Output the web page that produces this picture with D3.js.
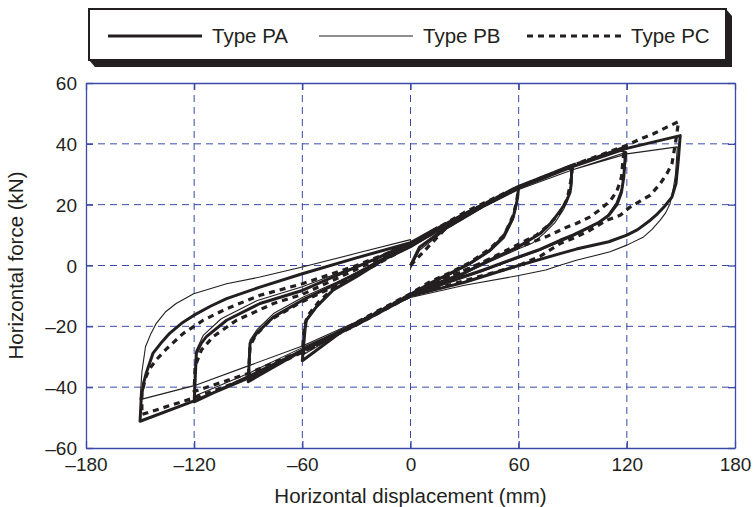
<!DOCTYPE html>
<html>
<head>
<meta charset="utf-8">
<script src="https://cdn.jsdelivr.net/npm/d3@7"></script>
<style>
  body { margin: 0; background: #fff; }
  text { font-family: "Liberation Sans", Arial, sans-serif; fill: #231f20; }
</style>
</head>
<body>
<div id="chart" style="width:754px;height:507px"></div>
<script>
// hysteresis loops, cycles at 60, 90, 120, 150 mm
var typePA = [
  // 60
  [0,0],[5,6],[20,12.5],[40,19.5],[60,25.7],
  [59,21],[57,16],[51.5,9.5],[44,5],[33,0.7],[22,-2.6],[10.7,-5.9],[0,-9.5],[-20,-16],[-40,-22.5],[-60,-31.3],
  [-58.5,-21],[-57.8,-18],[-52.2,-13.6],[-43,-8.1],[-30,-3.7],[-15.2,1.8],[0,6.2],
  // 90
  [20,13.5],[40,19.5],[60,25.5],[75,29],[89.4,32.8],
  [89.2,27],[88.5,24],[86,20.5],[83,18],[78,14],[71.9,10.5],[60,6.2],[44,1.8],[29.3,-2.6],[14.4,-5.9],[0,-9.5],[-30,-19.5],[-60,-28],[-90,-38.2],
  [-89,-25.6],[-85.4,-22.3],[-76,-16.9],[-60,-11.4],[-41,-6],[-20,0.5],[0,6.8],
  // 120
  [30,17],[60,25.5],[90,32.5],[119,39],
  [119,35],[118.3,29],[117,24],[114.5,20],[110,16.5],[104,14],[97,12],[90,10],[83,8.3],[71.8,5.3],[60,2.8],[40,-1.5],[20,-5.5],[0,-10],[-30,-19.5],[-60,-28],[-90,-36.5],[-120,-44.8],
  [-118.8,-28.9],[-116,-25.5],[-113.2,-23.4],[-102,-18],[-83.5,-12.5],[-60,-8.2],[-40,-3],[-20,2],[0,7.5],
  // 150
  [30,17],[60,25.5],[90,32.5],[120,38.5],[149.6,42.7],
  [148.6,35],[147.3,27],[145,22.5],[141,19.5],[137,17],[133,14.9],[126,11.8],[120,10],[110,7.8],[92,5.4],[83,3.9],[60,0],[30,-5.5],[0,-10],[-30,-19],[-60,-28],[-90,-37],[-120,-44.5],[-150,-51.2],
  [-149.4,-44],[-148.2,-39],[-146.6,-35.4],[-142.9,-28.9],[-138,-25.2],[-133.6,-22.3],[-127,-19],[-120.3,-16.4],[-111,-13.4],[-102,-10.9],[-83.5,-7.1],[-60,-2.7],[-30,2.5],[0,7.5],[15,12.5]
];

var typePB = [
  // 60
  [0,-1],[5,5],[20,12],[40,19],[60,25],
  [59,20],[57,15],[52,9],[44,4.5],[33,0.3],[22,-3],[10,-6.2],[0,-9.8],[-20,-16.5],[-40,-22.5],[-60,-29.5],
  [-59,-20.5],[-57,-17],[-51,-12.5],[-42,-7.5],[-30,-3.2],[-15,2],[0,6],
  // 90
  [30,16],[60,25],[90,31.5],
  [89,26],[87.5,22],[85,18.5],[80,14],[74,10.5],[68,7.5],[60,5.5],[44,1.2],[29,-3],[14,-6.2],[0,-10],[-30,-19],[-60,-27.5],[-90,-37],
  [-89,-24.5],[-85,-21],[-76,-15.8],[-60,-10.5],[-41,-5.5],[-20,0.5],[0,6.5],
  // 120
  [30,16.5],[60,25],[90,31.5],[120,37.3],
  [119,32],[117.5,26],[114,20.5],[108.7,16],[100,12.5],[90,9.5],[80,7],[70,4.5],[60,2.5],[40,-2],[20,-6],[0,-10],[-30,-19],[-60,-27],[-90,-35.5],[-120,-43],
  [-119,-28],[-115,-23],[-105,-17.5],[-85,-11.5],[-60,-7],[-40,-2.5],[-20,2],[0,7],
  // 150
  [30,16.5],[60,25],[90,31.5],[120,36.7],[148,39],
  [147,30],[145.9,25.8],[144,20.3],[141.5,17.3],[138.5,14.9],[134,11.9],[129.3,9.4],[120,6.7],[110.7,4.5],[92,1.7],[83,0.1],[75,-1.5],[60,-3.3],[30,-6.5],[0,-10.5],[-30,-18.5],[-60,-26.5],[-90,-33],[-120,-39.5],[-150,-44.1],
  [-149,-35],[-147,-26.7],[-144,-22.4],[-141,-19],[-136,-15.3],[-130,-12.5],[-120.3,-9.3],[-102,-6],[-83.5,-3.8],[-60,-0.5],[-30,4],[0,8.5]
];

var typePC = [
  // 60
  [0,0],[20,12.5],[40,19.5],[60,26],
  [59,21.5],[57,16.5],[52,10],[44,5.5],[33,1],[22,-2.3],[10,-5.6],[0,-9.3],[-20,-15.5],[-40,-22],[-60,-29],
  [-59,-20],[-57,-16.5],[-51,-12],[-42,-7],[-30,-2.8],[-15,2.3],[0,6.5],
  // 90
  [30,16.5],[60,26],[90,33],
  [89,28],[87,22],[83,17.5],[77,13.5],[70,10],[60,7],[44,2.2],[29,-2],[14,-5.5],[0,-9.5],[-30,-19],[-60,-28],[-90,-37.5],
  [-89,-26.5],[-86,-23],[-78,-18],[-62,-12.5],[-41,-6.5],[-20,0],[0,6.5],
  // 120
  [30,17],[60,26],[90,33],[119,38.6],
  [118,35.5],[117,29],[114.5,24.5],[111,21.4],[105,18.3],[99.6,16],[92,13.8],[86.6,12.6],[75.5,9.5],[60,6],[40,1],[20,-4],[0,-9.5],[-30,-19],[-60,-28],[-90,-35.5],[-120,-41.4],
  [-119.5,-33.2],[-116,-27.8],[-109.5,-23.4],[-96.5,-18],[-76,-12.5],[-60,-9.5],[-40,-4],[-20,1.5],[0,7],
  // 150
  [30,17.5],[60,26],[90,33],[120,39.5],[127.4,41.6],[134.8,43.3],[142.2,45.5],[148.7,47.3],
  [146.9,40],[145,33.4],[142.2,30.2],[138.5,26.9],[133,23.1],[127.4,21.2],[121.8,19.2],[116.3,16.5],[108.9,14.9],[99.6,11.6],[92,9.4],[83,7.2],[71.8,3],[60,0],[30,-5],[0,-10],[-30,-19.5],[-60,-28.5],[-90,-37],[-120,-43.5],[-149,-49],
  [-149,-42],[-147,-37],[-144.8,-34],[-141,-31],[-135.5,-27.5],[-126,-22.3],[-115,-18],[-102,-14.2],[-83.5,-9.8],[-60,-6],[-30,0],[0,7]
];

var seriesNames = ["Type PA", "Type PB", "Type PC"];
var xTicks = [-180, -120, -60, 0, 60, 120, 180];
var yTicks = [-60, -40, -20, 0, 20, 40, 60];

var width = 754, height = 507;
var margin = {left: 86, top: 83, right: 19, bottom: 59};
var blue = "#3a4aa6";

var svg = d3.select("#chart").append("svg")
    .attr("width", width)
    .attr("height", height);

var x = d3.scaleLinear().domain([-180, 180]).range([margin.left, width - margin.right]);
var y = d3.scaleLinear().domain([-60, 60]).range([height - margin.bottom, margin.top]);

// grid
var grid = svg.append("g");
grid.selectAll("line.gx")
  .data(xTicks.slice(1, -1))
  .enter().append("line")
    .attr("x1", function(d) { return x(d); })
    .attr("x2", function(d) { return x(d); })
    .attr("y1", y(60)).attr("y2", y(-60))
    .attr("stroke", blue).attr("stroke-width", 1)
    .attr("stroke-dasharray", "7,5");
grid.selectAll("line.gy")
  .data(yTicks.slice(1, -1))
  .enter().append("line")
    .attr("y1", function(d) { return y(d); })
    .attr("y2", function(d) { return y(d); })
    .attr("x1", x(-180)).attr("x2", x(180))
    .attr("stroke", blue).attr("stroke-width", 1)
    .attr("stroke-dasharray", "7,5");

// axes (ticks inward, labels outside)
var fmt = function(d) { return d < 0 ? "\u2013" + Math.abs(d) : d; };
var xAxis = svg.append("g")
    .attr("transform", "translate(0," + y(-60) + ")")
    .call(d3.axisBottom(x).tickValues(xTicks).tickSizeInner(-7).tickSizeOuter(0).tickPadding(10).tickFormat(fmt));
var xAxisTop = svg.append("g")
    .attr("transform", "translate(0," + y(60) + ")")
    .call(d3.axisTop(x).tickValues(xTicks).tickSizeInner(-7).tickSizeOuter(0).tickFormat(""));
var yAxis = svg.append("g")
    .attr("transform", "translate(" + x(-180) + ",0)")
    .call(d3.axisLeft(y).tickValues(yTicks).tickSizeInner(-7).tickSizeOuter(0).tickPadding(9).tickFormat(fmt));
var yAxisRight = svg.append("g")
    .attr("transform", "translate(" + x(180) + ",0)")
    .call(d3.axisRight(y).tickValues(yTicks).tickSizeInner(-7).tickSizeOuter(0).tickFormat(""));

[xAxis, xAxisTop, yAxis, yAxisRight].forEach(function(a) {
  a.select(".domain").attr("stroke", blue).attr("stroke-width", 1.3);
  a.selectAll(".tick line").attr("stroke", blue).attr("stroke-width", 1.3);
  a.selectAll(".tick text")
    .style("font-family", "'Liberation Sans', Arial, sans-serif")
    .style("font-size", "19px").attr("fill", "#231f20");
});
yAxis.selectAll(".tick text").attr("dy", "0.35em");

// axis titles
svg.append("text")
    .attr("x", (x(-180) + x(180)) / 2)
    .attr("y", 503)
    .attr("text-anchor", "middle")
    .style("font-size", "20.5px")
    .text("Horizontal displacement (mm)");
svg.append("text")
    .attr("transform", "translate(23," + (y(0)) + ") rotate(-90)")
    .attr("text-anchor", "middle")
    .style("font-size", "20.5px")
    .text("Horizontal force (kN)");

// curves
var line = d3.line()
    .x(function(d) { return x(d[0]); })
    .y(function(d) { return y(d[1]); });

var styles = [
  {w: 3, dash: null},
  {w: 1.1, dash: null},
  {w: 3.2, dash: "6,5"}
];
var curves = svg.append("g");
[typePB, typePC, typePA].forEach(function(s) {
  var i = s === typePA ? 0 : (s === typePB ? 1 : 2);
  curves.append("path")
    .datum(s)
    .attr("d", line)
    .attr("fill", "none")
    .attr("stroke", "#231f20")
    .attr("stroke-width", styles[i].w)
    .attr("stroke-linejoin", "round")
    .attr("stroke-dasharray", styles[i].dash);
});

// legend with drop shadow
var lg = svg.append("g");
var bx = 89, by = 9, bw = 637, bh = 51;
lg.append("polygon")
    .attr("points", [[bx, by + bh], [bx + 6, by + bh + 7], [bx + bw + 6, by + bh + 7], [bx + bw + 6, by + 7], [bx + bw, by]].join(" "))
    .attr("fill", "#231f20");
lg.append("rect")
    .attr("x", bx).attr("y", by).attr("width", bw).attr("height", bh)
    .attr("fill", "#fff").attr("stroke", "#231f20").attr("stroke-width", 2);

var legX = [108, 319, 527];
seriesNames.forEach(function(name, i) {
  lg.append("line")
    .attr("x1", legX[i]).attr("x2", legX[i] + 94)
    .attr("y1", 36).attr("y2", 36)
    .attr("stroke", "#231f20")
    .attr("stroke-width", styles[i].w)
    .attr("stroke-dasharray", styles[i].dash);
  lg.append("text")
    .attr("x", legX[i] + 104)
    .attr("y", 43)
    .style("font-size", "20.5px")
    .text(name);
});
</script>
</body>
</html>
